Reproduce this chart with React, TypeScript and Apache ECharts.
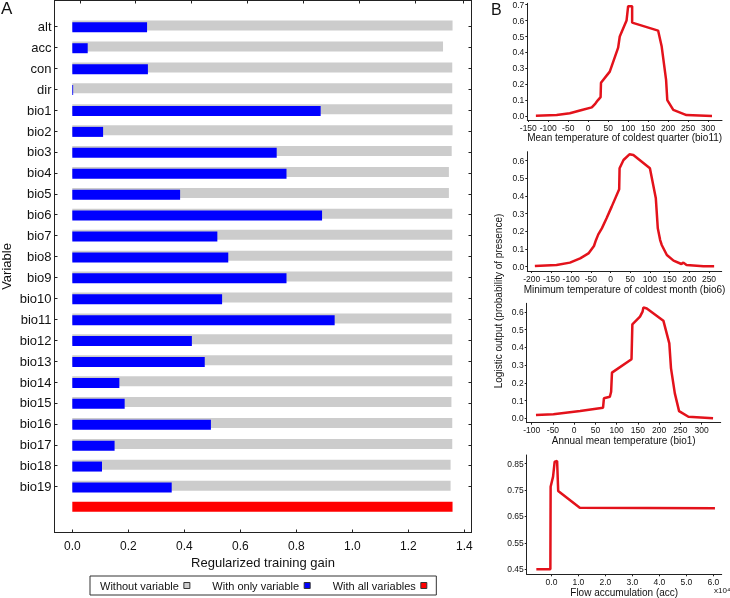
import React, { useEffect, useRef } from "react";
import * as echarts from "echarts";

// ---------- Panel A data ----------
const variables = ["alt", "acc", "con", "dir", "bio1", "bio2", "bio3", "bio4", "bio5", "bio6", "bio7", "bio8", "bio9", "bio10", "bio11", "bio12", "bio13", "bio14", "bio15", "bio16", "bio17", "bio18", "bio19", ""];
const withoutVariable = [1.358, 1.324, 1.357, 1.357, 1.357, 1.358, 1.355, 1.345, 1.345, 1.357, 1.357, 1.357, 1.357, 1.357, 1.354, 1.357, 1.357, 1.357, 1.354, 1.357, 1.357, 1.351, 1.351];
const withOnlyVariable = [0.267, 0.055, 0.27, 0.003, 0.887, 0.11, 0.73, 0.765, 0.385, 0.892, 0.518, 0.557, 0.765, 0.535, 0.937, 0.427, 0.473, 0.168, 0.187, 0.495, 0.151, 0.106, 0.355];
const withAllVariables = 1.358;
const gainTicks = [0, 0.2, 0.4, 0.6, 0.8, 1.0, 1.2, 1.4];
const gainTopTicks = [0.0275, 0.2264, 0.4239, 0.6239, 0.8239, 1.0239, 1.2239, 1.3964];

// ---------- Panel B data ----------
const bio11Curve = [[-131, 0.004], [-79, 0.008], [-46, 0.019], [-16, 0.04], [9, 0.056], [18, 0.08], [24, 0.1], [31, 0.12], [32, 0.21], [54, 0.28], [75, 0.43], [79, 0.5], [96, 0.6], [100, 0.69], [110, 0.69], [110, 0.587], [175, 0.537], [184, 0.437], [195, 0.228], [198, 0.102], [213, 0.04], [246, 0.008], [310, 0.002]];
const bio11Ticks = [-150, -100, -50, 0, 50, 100, 150, 200, 250, 300];
const bio11YTicks = [0, 0.1, 0.2, 0.3, 0.4, 0.5, 0.6, 0.7];

const bio6Curve = [[-192, 0.004], [-137, 0.009], [-103, 0.023], [-77, 0.047], [-56, 0.075], [-42, 0.117], [-37, 0.15], [-31, 0.183], [-22, 0.217], [-10, 0.274], [3, 0.34], [22, 0.438], [23, 0.557], [33, 0.604], [48, 0.636], [58, 0.632], [100, 0.557], [115, 0.387], [120, 0.217], [126, 0.151], [130, 0.123], [143, 0.066], [160, 0.034], [180, 0.015], [185, 0.023], [193, 0.009], [236, 0.002], [263, 0.002]];
const bio6Ticks = [-200, -150, -100, -50, 0, 50, 100, 150, 200, 250];
const bio6YTicks = [0, 0.1, 0.2, 0.3, 0.4, 0.5, 0.6];

const bio1Curve = [[-90, 0.019], [-49, 0.023], [14, 0.041], [68, 0.06], [70, 0.113], [84, 0.122], [87, 0.15], [89, 0.258], [135, 0.333], [137, 0.53], [155, 0.574], [161, 0.602], [163, 0.626], [171, 0.62], [210, 0.551], [224, 0.423], [228, 0.282], [237, 0.141], [247, 0.041], [269, 0.009], [327, 0.0]];
const bio1Ticks = [-100, -50, 0, 50, 100, 150, 200, 250, 300];
const bio1YTicks = [0, 0.1, 0.2, 0.3, 0.4, 0.5, 0.6];

const accCurve = [[-0.56, 0.45], [-0.04, 0.45], [-0.03, 0.763], [0.06, 0.801], [0.12, 0.858], [0.21, 0.86], [0.25, 0.747], [1.05, 0.683], [6.06, 0.681]];
const accTicks = [0, 1, 2, 3, 4, 5, 6];
const accYTicks = [0.45, 0.55, 0.65, 0.75, 0.85];

const FONT = "'Liberation Sans', Arial, sans-serif";
const INK = "#111";
const AXIS = "#222";
const CURVE = "#e3121b";

function bAxes(gridIndex: number, xr: [number, number], yr: [number, number], xt: number[], yt: number[], name: string, nameGap: number, xfmt: (v: number) => string, yfmt: (v: number) => string) {
  const x = {
    gridIndex, type: "value", min: xr[0], max: xr[1],
    axisLine: { show: true, onZero: false, lineStyle: { color: AXIS, width: 1 } },
    axisTick: { show: true, length: 2, customValues: xt, lineStyle: { color: AXIS } },
    axisLabel: { customValues: xt, formatter: xfmt, fontSize: 8.5, fontFamily: FONT, color: INK, margin: 3 },
    splitLine: { show: false },
    name, nameLocation: "middle", nameGap,
    nameTextStyle: { fontSize: 10, fontFamily: FONT, color: INK },
  };
  const y = {
    gridIndex, type: "value", min: yr[0], max: yr[1],
    axisLine: { show: true, onZero: false, lineStyle: { color: AXIS, width: 1 } },
    axisTick: { show: true, length: 2, customValues: yt, lineStyle: { color: AXIS } },
    axisLabel: { customValues: yt, formatter: yfmt, fontSize: 8.5, fontFamily: FONT, color: INK, margin: 3 },
    splitLine: { show: false },
  };
  return { x, y };
}

export default function App() {
  const ref = useRef<HTMLDivElement>(null);
  useEffect(() => {
    if (!ref.current) return;
    const chart = echarts.init(ref.current, undefined, { renderer: "svg" });
    const f1 = (v: number) => v.toFixed(1);
    const f0 = (v: number) => String(v);
    const f2 = (v: number) => v.toFixed(2);
    const b1 = bAxes(2, [-152.5, 335], [-0.023, 0.708], bio11Ticks, bio11YTicks, "Mean temperature of coldest quarter (bio11)", 11, f0, f1);
    const b2 = bAxes(3, [-211.2, 282.2], [-0.0245, 0.651], bio6Ticks, bio6YTicks, "Minimum temperature of coldest month (bio6)", 13, f0, f1);
    const b3 = bAxes(4, [-111.8, 345], [-0.0245, 0.649], bio1Ticks, bio1YTicks, "Annual mean temperature (bio1)", 13, f0, f1);
    const b4 = bAxes(5, [-0.917, 6.31], [0.431, 0.883], accTicks, accYTicks, "Flow accumulation (acc)", 12, f1, f2);

    const rowTick = (i: number) => i < variables.length - 1;
    const gainMin = -0.0636;
    const gainMax = 1.4257;
    const g = { outerBoundsMode: "none", containLabel: false };

    chart.setOption({
      animation: false,
      textStyle: { fontFamily: FONT, color: INK },
      grid: [
        { ...g, left: 54.5, top: 0.5, width: 417, height: 532 },
        { ...g, left: 54.5, top: 16, width: 417, height: 502 },
        { ...g, left: 527.3, top: 3.3, width: 194.7, height: 116.7 },
        { ...g, left: 527.3, top: 151.7, width: 194.4, height: 119.3 },
        { ...g, left: 526.7, top: 303.3, width: 194, height: 119.4 },
        { ...g, left: 526.7, top: 455, width: 195, height: 119.3 },
      ],
      xAxis: [
        {
          gridIndex: 0, type: "value", min: gainMin, max: gainMax, position: "bottom",
          axisLine: { show: true, onZero: false, lineStyle: { color: AXIS } },
          axisTick: { show: true, inside: true, length: 3, customValues: gainTicks, lineStyle: { color: AXIS } },
          axisLabel: { customValues: gainTicks, formatter: f1, fontSize: 12, color: INK, margin: 7 },
          splitLine: { show: false },
          name: "Regularized training gain", nameLocation: "middle", nameGap: 19,
          nameTextStyle: { fontSize: 13, color: INK },
        },
        {
          gridIndex: 0, type: "value", min: gainMin, max: gainMax, position: "top",
          axisLine: { show: true, onZero: false, lineStyle: { color: AXIS } },
          axisTick: { show: true, inside: true, length: 3, customValues: gainTopTicks, lineStyle: { color: AXIS } },
          axisLabel: { show: false },
          splitLine: { show: false },
        },
        { gridIndex: 1, type: "value", min: gainMin, max: gainMax, show: false },
        b1.x, b2.x, b3.x, b4.x,
      ],
      yAxis: [
        {
          gridIndex: 0, type: "value", min: 0, max: 1, position: "left",
          axisLine: { show: true, onZero: false, lineStyle: { color: AXIS } },
          axisTick: { show: false }, axisLabel: { show: false }, splitLine: { show: false },
          name: "Variable", nameLocation: "middle", nameGap: 42, nameRotate: 90,
          nameTextStyle: { fontSize: 13, color: INK },
        },
        {
          gridIndex: 0, type: "value", min: 0, max: 1, position: "right",
          axisLine: { show: true, onZero: false, lineStyle: { color: AXIS } },
          axisTick: { show: false }, axisLabel: { show: false }, splitLine: { show: false },
        },
        {
          gridIndex: 1, type: "category", data: variables, inverse: true, position: "left",
          axisLine: { show: false, onZero: false },
          axisTick: { show: true, inside: true, length: 3, alignWithLabel: true, interval: rowTick, lineStyle: { color: AXIS } },
          axisLabel: { fontSize: 13, color: INK, margin: 3 },
        },
        {
          gridIndex: 1, type: "category", data: variables, inverse: true, position: "right",
          axisLine: { show: false, onZero: false },
          axisTick: { show: true, inside: true, length: 3, alignWithLabel: true, interval: rowTick, lineStyle: { color: AXIS } },
          axisLabel: { show: false },
        },
        b1.y, b2.y, b3.y, b4.y,
      ],
      legend: {
        left: 90, top: 576, orient: "horizontal", align: "right",
        itemWidth: 6, itemHeight: 6, itemGap: 22, icon: "rect",
        padding: [4, 9, 4, 10],
        borderColor: "#333", borderWidth: 1,
        itemStyle: { borderColor: "#333", borderWidth: 1 },
        textStyle: { fontSize: 11, color: INK },
        data: ["Without variable", "With only variable", "With all variables"],
      },
      graphic: [
        { type: "text", left: 1, top: 0, style: { text: "A", fontSize: 17, fill: INK, fontFamily: FONT } },
        { type: "text", left: 491, top: 1, style: { text: "B", fontSize: 16, fill: INK, fontFamily: FONT } },
        { type: "text", left: 714, top: 586, style: { text: "x10⁴", fontSize: 8, fill: INK, fontFamily: FONT } },
        {
          type: "text", x: 498, y: 301, rotation: Math.PI / 2,
          style: { text: "Logistic output (probability of presence)", fontSize: 10, fill: INK, fontFamily: FONT, align: "center", verticalAlign: "middle" },
        },
      ],
      series: [
        {
          name: "Without variable", type: "bar", xAxisIndex: 2, yAxisIndex: 2, stack: "g",
          data: [...withoutVariable, "-"], barWidth: 10, barGap: "-83%",
          itemStyle: { color: "#cccccc" }, z: 2,
        },
        {
          name: "With all variables", type: "bar", xAxisIndex: 2, yAxisIndex: 2, stack: "g",
          data: [...withoutVariable.map(() => "-"), withAllVariables], barWidth: 10, barGap: "-83%",
          itemStyle: { color: "#ff0000" }, z: 2,
        },
        {
          name: "With only variable", type: "bar", xAxisIndex: 2, yAxisIndex: 2,
          data: [...withOnlyVariable, "-"], barWidth: 10, barGap: "-83%",
          itemStyle: { color: "#0000ff" }, z: 3,
        },
        { type: "line", xAxisIndex: 3, yAxisIndex: 4, data: bio11Curve, showSymbol: false, lineStyle: { color: CURVE, width: 2.5 } },
        { type: "line", xAxisIndex: 4, yAxisIndex: 5, data: bio6Curve, showSymbol: false, lineStyle: { color: CURVE, width: 2.5 } },
        { type: "line", xAxisIndex: 5, yAxisIndex: 6, data: bio1Curve, showSymbol: false, lineStyle: { color: CURVE, width: 2.5 } },
        { type: "line", xAxisIndex: 6, yAxisIndex: 7, data: accCurve, showSymbol: false, lineStyle: { color: CURVE, width: 2.5 } },
      ],
    });
    return () => chart.dispose();
  }, []);
  return <div ref={ref} style={{ position: "fixed", left: 0, top: 0, width: 730, height: 598 }} />;
}
